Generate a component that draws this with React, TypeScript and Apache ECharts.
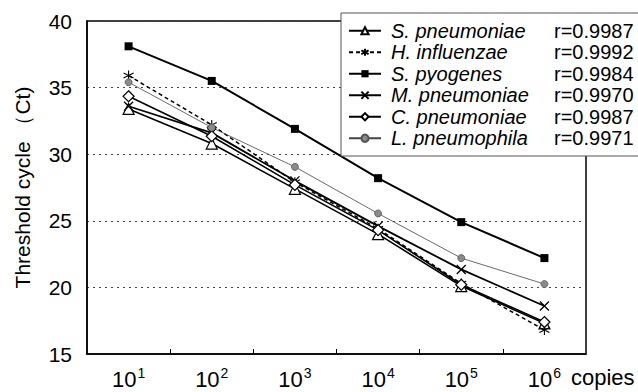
import React, { useEffect, useRef } from "react";
import * as echarts from "echarts";

const exponents = [1, 2, 3, 4, 5, 6];
const halfTicks = [1.5, 2.5, 3.5, 4.5, 5.5];
const speciesNames = [
  "S. pneumoniae",
  "H. influenzae",
  "S. pyogenes",
  "M. pneumoniae",
  "C. pneumoniae",
  "L. pneumophila",
];
const rValues = ["0.9987", "0.9992", "0.9984", "0.9970", "0.9987", "0.9971"];
const sPneumoniae = [33.4, 30.8, 27.4, 24.0, 20.1, 17.3];
const hInfluenzae = [35.9, 32.2, 27.9, 24.4, 20.3, 16.8];
const sPyogenes = [38.1, 35.5, 31.9, 28.2, 24.9, 22.2];
const mPneumoniae = [33.6, 31.6, 28.0, 24.6, 21.35, 18.6];
const cPneumoniae = [34.35, 31.35, 27.7, 24.3, 20.2, 17.4];
const lPneumophila = [35.4, 32.0, 29.05, 25.55, 22.2, 20.25];

const FONT = "'Liberation Sans', Arial, Helvetica, sans-serif";

const ASTERISK = "path://M5,0L5,10M0.7,2.5L9.3,7.5M9.3,2.5L0.7,7.5";
const XMARK = "path://M0,0L10,10M10,0L0,10";

export default function App() {
  const ref = useRef<HTMLDivElement>(null);
  useEffect(() => {
    if (!ref.current) return;
    const chart = echarts.init(ref.current, undefined, { renderer: "svg" });
    const pairs = (vals: number[]) => exponents.map((e, i) => [e, vals[i]]);
    const rMap: Record<string, string> = {};
    speciesNames.forEach((n, i) => (rMap[n] = rValues[i]));

    const series: any[] = [
      {
        name: speciesNames[0],
        data: pairs(sPneumoniae),
        symbol: "triangle",
        symbolSize: 11,
        lineStyle: { color: "#000", width: 1.6, type: "solid" },
        itemStyle: { color: "#fff", borderColor: "#000", borderWidth: 1.2 },
      },
      {
        name: speciesNames[1],
        data: pairs(hInfluenzae),
        symbol: ASTERISK,
        symbolSize: 10,
        lineStyle: { color: "#000", width: 1.5, type: [4, 3] },
        itemStyle: { color: "none", borderColor: "#000", borderWidth: 1.1 },
      },
      {
        name: speciesNames[2],
        data: pairs(sPyogenes),
        symbol: "rect",
        symbolSize: 8,
        lineStyle: { color: "#000", width: 2, type: "solid" },
        itemStyle: { color: "#000", borderColor: "#000", borderWidth: 0 },
      },
      {
        name: speciesNames[3],
        data: pairs(mPneumoniae),
        symbol: XMARK,
        symbolSize: 9,
        lineStyle: { color: "#000", width: 1.8, type: "solid" },
        itemStyle: { color: "none", borderColor: "#000", borderWidth: 1.3 },
      },
      {
        name: speciesNames[4],
        data: pairs(cPneumoniae),
        symbol: "diamond",
        symbolSize: 11,
        lineStyle: { color: "#000", width: 1.6, type: "solid" },
        itemStyle: { color: "#fff", borderColor: "#000", borderWidth: 1.2 },
      },
      {
        name: speciesNames[5],
        data: pairs(lPneumophila),
        symbol: "circle",
        symbolSize: 7,
        lineStyle: { color: "#444", width: 0.8, type: "solid" },
        itemStyle: { color: "#8a8a8a", borderColor: "#555", borderWidth: 0.8 },
      },
    ].map((s) => ({ ...s, type: "line", showSymbol: true, z: 3 }));

    chart.setOption({
      animation: false,
      textStyle: { fontFamily: FONT },
      grid: {
        left: 87,
        right: 52,
        top: 21,
        bottom: 38,
        show: true,
        borderColor: "#000",
        borderWidth: 1.5,
        backgroundColor: "transparent",
        outerBoundsMode: "none",
      },
      xAxis: {
        type: "value",
        min: 0.5,
        max: 6.5,
        axisLine: { show: true, lineStyle: { color: "#000", width: 1.5 } },
        axisTick: {
          show: true,
          inside: true,
          length: 5,
          customValues: halfTicks,
          lineStyle: { color: "#000", width: 1 },
        },
        splitLine: { show: false },
        axisLabel: {
          customValues: exponents,
          margin: 12,
          color: "#000",
          formatter: (v: number) => `{b|10}{s|${v}}`,
          rich: {
            b: { fontSize: 22, fontFamily: FONT, color: "#000", lineHeight: 24, verticalAlign: "bottom" },
            s: {
              fontSize: 14,
              fontFamily: FONT,
              color: "#000",
              verticalAlign: "bottom",
              padding: [0, 0, 10, 1],
            },
          },
        },
        name: "copies",
        nameLocation: "end",
        nameGap: -15,
        nameTextStyle: {
          fontSize: 22,
          color: "#000",
          fontFamily: FONT,
          align: "left",
          verticalAlign: "top",
          padding: [12, 0, 0, 0],
        },
      },
      yAxis: {
        type: "value",
        min: 15,
        max: 40,
        interval: 5,
        axisLine: { show: true, lineStyle: { color: "#000", width: 1.5 } },
        axisTick: { show: false },
        axisLabel: { fontSize: 21, color: "#000", margin: 15, fontFamily: FONT },
        splitLine: { show: true, lineStyle: { type: [2, 4], color: "#444", width: 1 } },
        name: "Threshold cycle （Ct)",
        nameLocation: "middle",
        nameGap: 54,
        nameRotate: 90,
        nameTextStyle: { fontSize: 21, color: "#000", fontFamily: FONT },
      },
      legend: {
        orient: "vertical",
        left: 341,
        top: 13,
        backgroundColor: "#fff",
        borderColor: "#555",
        borderWidth: 1,
        padding: [7, 9, 7, 7],
        itemWidth: 32,
        itemHeight: 9,
        itemGap: 0,
        data: speciesNames,
        formatter: (name: string) => `{n|${name}}{r|r=${rMap[name]}}`,
        textStyle: {
          fontSize: 20,
          color: "#000",
          fontFamily: FONT,
          lineHeight: 21.5,
          rich: {
            n: { fontStyle: "italic", fontSize: 20, lineHeight: 21.5, width: 163, padding: [0, 0, 0, 5], fontFamily: FONT, color: "#000" },
            r: { fontSize: 20, lineHeight: 21.5, fontFamily: FONT, color: "#000" },
          },
        },
      },
      series,
    });
    return () => chart.dispose();
  }, []);
  return (
    <div
      ref={ref}
      style={{ position: "fixed", left: 0, top: 0, width: 638, height: 392, background: "#fff" }}
    />
  );
}
